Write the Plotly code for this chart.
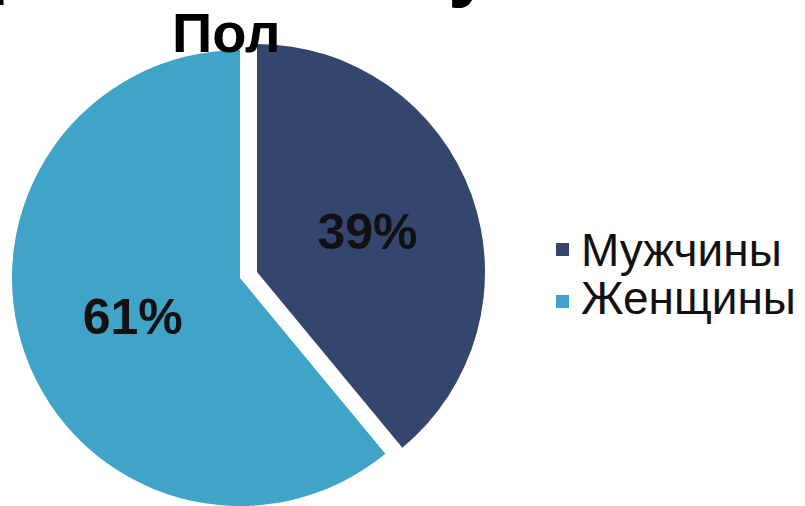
import plotly.graph_objects as go

W, H = 805, 506

labels = ["Мужчины", "Женщины"]
values = [39, 61]
colors = ["#34466E", "#40A3C8"]
pct_text = ["39%", "61%"]
title_text = "Пол"

TRANSPARENT = "rgba(0,0,0,0)"

def px_dom(cx, cy, r):
    # cx, cy in px from top-left
    return dict(
        x=[(cx - r) / W, (cx + r) / W],
        y=[(H - cy - r) / H, (H - cy + r) / H],
    )

R = 228
base_center = (240, 278)
pull_center = (257, 272)

fig = go.Figure()

# Base pie: women slice visible, men slice transparent
fig.add_trace(go.Pie(
    labels=labels, values=values, sort=False, direction="clockwise", rotation=0,
    marker=dict(colors=[TRANSPARENT, colors[1]], line=dict(width=0)),
    text=["", pct_text[1]], textinfo="text", textposition="inside",
    insidetextorientation="horizontal",
    textfont=dict(family="Liberation Sans, Arial, sans-serif", size=50, color="#111111", weight="bold"),
    domain=px_dom(*base_center, R), showlegend=False, hoverinfo="label+percent",
))
# Pulled pie: men slice visible (exploded)
fig.add_trace(go.Pie(
    labels=labels, values=values, sort=False, direction="clockwise", rotation=0,
    marker=dict(colors=[colors[0], TRANSPARENT], line=dict(width=0)),
    text=[pct_text[0], ""], textinfo="text", textposition="inside",
    insidetextorientation="horizontal",
    textfont=dict(family="Liberation Sans, Arial, sans-serif", size=50, color="#111111", weight="bold"),
    domain=px_dom(*pull_center, R), showlegend=False, hoverinfo="label+percent",
))

annotations = []
# Title
annotations.append(dict(
    text=f"<b>{title_text}</b>", x=226 / W, y=(H - 33) / H, xref="paper", yref="paper",
    xanchor="center", yanchor="middle", showarrow=False,
    font=dict(family="Liberation Sans Narrow, Arial Narrow, Liberation Sans, sans-serif", size=56, color="#000000"),
))
# Cut-off slide heading glyphs at the very top (only descenders visible)
annotations.append(dict(
    text="<b>р</b>", x=-15 / W, y=(H - 7) / H, xref="paper", yref="paper",
    xanchor="left", yanchor="bottom", showarrow=False,
    font=dict(family="Liberation Sans, Arial, sans-serif", size=80, color="#000000"),
))
annotations.append(dict(
    text="<b>у</b>", x=470 / W, y=(H - 10) / H, xref="paper", yref="paper",
    xanchor="center", yanchor="bottom", showarrow=False,
    font=dict(family="Liberation Sans, Arial, sans-serif", size=80, color="#000000"),
))

# Legend (manual)
legend_rows = [(250, 243), (298, 295)]
shapes = []
for (ty, sy), lab, col in zip(legend_rows, labels, colors):
    annotations.append(dict(
        text=lab, x=579 / W, y=(H - ty) / H, xref="paper", yref="paper",
        xanchor="left", yanchor="middle", showarrow=False,
        font=dict(family="Liberation Sans, Arial, sans-serif", size=46, color="#111111"),
    ))
    shapes.append(dict(
        type="rect", xref="paper", yref="paper",
        x0=556 / W, x1=569 / W, y0=(H - sy - 13) / H, y1=(H - sy) / H,
        fillcolor=col, line=dict(width=0),
    ))

fig.update_layout(
    width=W, height=H,
    margin=dict(l=0, r=0, t=0, b=0),
    paper_bgcolor="#FFFFFF", plot_bgcolor="#FFFFFF",
    annotations=annotations, shapes=shapes,
    showlegend=False,
)

fig.write_html("out.html")
